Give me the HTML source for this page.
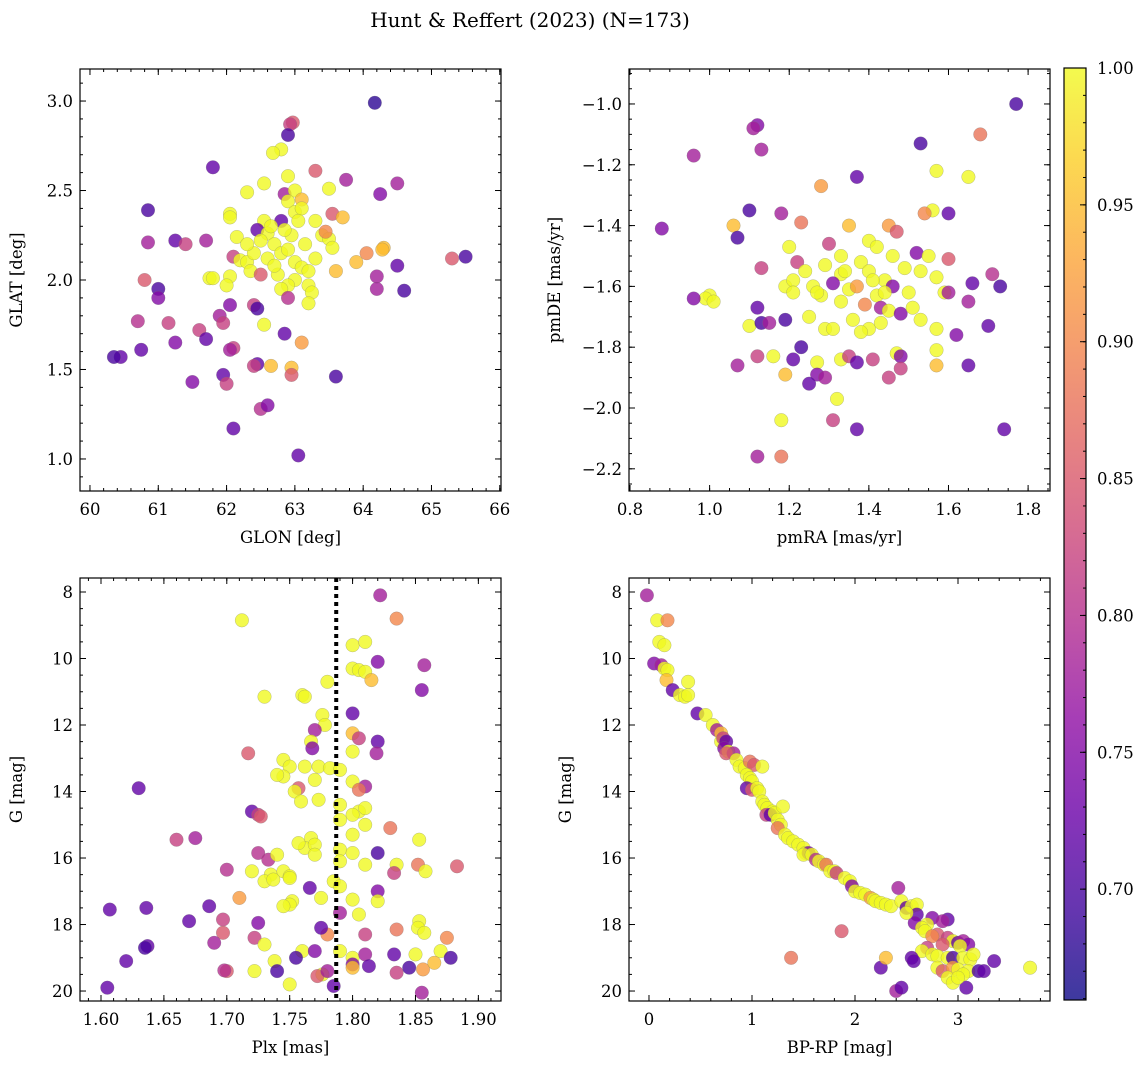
<!DOCTYPE html>
<html><head><meta charset="utf-8"><style>
body{margin:0;background:#fff}
svg{display:block;font-family:"DejaVu Serif","Liberation Serif",serif}
</style></head><body>
<svg id="s" width="1148" height="1068" viewBox="0 0 1148 1068">
<text x="530" y="27" text-anchor="middle" font-size="20">Hunt &amp; Reffert (2023) (N=173)</text>
</svg>
<script>
// Panel 1: GLON, GLAT, probability
const p1 = [[64.17,2.99,.68],[62.97,2.88,.85],[62.93,2.87,.82],[62.9,2.81,.70],[62.8,2.73,1],[62.68,2.71,1],[61.8,2.63,.72],[63.3,2.61,.85],[62.9,2.58,1],[63.75,2.56,.78],[64.5,2.54,.78],[62.55,2.54,1],[63.5,2.51,1],[62.3,2.49,1],[62.85,2.48,.78],[63.0,2.5,1],[64.25,2.48,.75],[63.1,2.45,.95],[62.9,2.44,1],[60.85,2.39,.70],[62.05,2.37,1],[62.05,2.35,1],[63.0,2.38,1],[63.1,2.4,1],[62.8,2.33,.72],[63.55,2.37,.85],[63.7,2.35,.95],[63.3,2.33,1],[62.55,2.33,1],[61.25,2.22,.72],[61.4,2.2,.82],[61.7,2.22,.78],[60.85,2.21,.78],[62.45,2.28,.72],[62.6,2.26,1],[62.15,2.24,1],[62.1,2.13,.82],[62.2,2.11,1],[62.3,2.1,1],[63.4,2.25,1],[63.5,2.23,1],[63.55,2.18,1],[63.45,2.27,.9],[62.7,2.2,1],[62.8,2.15,1],[62.9,2.17,1],[63.0,2.1,1],[63.1,2.07,1],[63.2,2.05,1],[62.6,2.12,1],[62.5,2.22,1],[62.4,2.15,1],[62.35,2.05,1],[62.75,2.03,1],[63.0,2.0,1],[62.9,1.97,1],[63.2,1.97,1],[63.25,1.93,1],[62.8,1.95,1],[64.3,2.18,.95],[64.28,2.17,.95],[64.05,2.15,.9],[63.9,2.1,.95],[65.3,2.12,.85],[65.5,2.13,.70],[64.5,2.08,.72],[60.8,2.0,.85],[61.0,1.95,.70],[61.0,1.9,.75],[61.75,2.01,1],[61.8,2.01,1],[62.05,2.02,1],[62.0,1.97,1],[63.6,2.05,.95],[62.5,2.03,.85],[64.2,2.02,.78],[64.2,1.95,.78],[64.6,1.94,.70],[63.2,1.87,1],[62.9,1.9,.8],[61.9,1.8,.78],[61.95,1.76,.82],[62.05,1.86,.75],[62.4,1.86,.82],[62.45,1.84,.7],[60.7,1.77,.80],[61.15,1.76,.82],[61.6,1.72,.82],[61.7,1.67,.72],[62.55,1.75,1],[62.85,1.7,.72],[63.1,1.65,.92],[61.25,1.65,.75],[60.75,1.61,.72],[60.45,1.57,.72],[60.35,1.57,.70],[62.1,1.62,.82],[62.05,1.61,.78],[61.95,1.47,.72],[62.0,1.42,.82],[62.45,1.53,.72],[62.4,1.52,.82],[62.65,1.52,.95],[62.95,1.51,.95],[62.95,1.47,.85],[63.6,1.46,.70],[61.5,1.43,.75],[62.5,1.28,.8],[62.6,1.3,.75],[62.1,1.17,.72],[63.05,1.02,.72],[62.65,2.3,1],[62.95,2.25,1],[63.15,2.2,1],[62.3,2.2,1],[62.7,2.08,1],[63.3,2.12,1],[62.85,2.28,1],[63.05,2.33,1]];
// Panel 2: pmRA, pmDE, probability
const p2 = [[1.77,-1.0,.70],[1.68,-1.1,.88],[1.12,-1.07,.75],[1.11,-1.08,.78],[0.96,-1.17,.78],[1.13,-1.15,.78],[1.53,-1.13,.70],[1.65,-1.24,1],[1.37,-1.24,.72],[1.57,-1.22,1],[1.28,-1.27,.92],[1.10,-1.35,.70],[1.56,-1.35,1],[1.18,-1.36,.78],[1.54,-1.36,.9],[1.60,-1.36,.72],[1.06,-1.40,.95],[0.88,-1.41,.75],[1.07,-1.44,.70],[1.23,-1.39,.88],[1.35,-1.40,.95],[1.45,-1.40,.92],[1.47,-1.42,.85],[1.40,-1.45,1],[1.42,-1.47,1],[1.30,-1.46,.82],[1.20,-1.47,1],[1.33,-1.50,1],[1.38,-1.52,1],[1.46,-1.50,1],[1.52,-1.49,.75],[1.55,-1.50,1],[1.60,-1.51,.85],[1.71,-1.56,.8],[1.22,-1.52,.82],[1.24,-1.55,1],[1.29,-1.53,1],[1.33,-1.56,1],[1.40,-1.55,1],[1.44,-1.58,1],[1.49,-1.54,1],[1.53,-1.55,1],[1.57,-1.57,1],[1.13,-1.54,.82],[1.19,-1.6,1],[1.21,-1.58,1],[1.26,-1.6,1],[1.31,-1.59,.75],[1.35,-1.61,1],[1.37,-1.6,.92],[1.42,-1.63,1],[1.46,-1.60,.75],[1.50,-1.62,1],[1.59,-1.62,1],[1.66,-1.59,.72],[1.73,-1.60,.7],[1.00,-1.63,1],[0.99,-1.64,1],[0.96,-1.64,.75],[1.01,-1.65,1],[1.12,-1.67,.72],[1.21,-1.62,1],[1.28,-1.63,1],[1.33,-1.65,1],[1.39,-1.66,.9],[1.43,-1.67,.78],[1.45,-1.68,1],[1.48,-1.69,.75],[1.60,-1.62,.78],[1.65,-1.65,.78],[1.10,-1.73,1],[1.13,-1.72,.7],[1.15,-1.72,.78],[1.19,-1.71,.7],[1.25,-1.70,1],[1.29,-1.74,1],[1.31,-1.74,1],[1.36,-1.71,1],[1.40,-1.74,1],[1.43,-1.72,1],[1.53,-1.71,1],[1.57,-1.74,1],[1.62,-1.76,.75],[1.70,-1.73,.72],[1.07,-1.86,.78],[1.12,-1.83,.82],[1.16,-1.83,1],[1.21,-1.84,.72],[1.23,-1.80,.7],[1.27,-1.85,1],[1.27,-1.89,.75],[1.29,-1.9,.78],[1.25,-1.92,.72],[1.33,-1.84,1],[1.35,-1.83,.82],[1.37,-1.85,.72],[1.41,-1.84,.82],[1.47,-1.82,1],[1.48,-1.83,.75],[1.48,-1.87,.82],[1.45,-1.90,.82],[1.57,-1.81,1],[1.57,-1.86,.95],[1.65,-1.86,.72],[1.19,-1.89,.95],[1.32,-1.97,1],[1.31,-2.04,.82],[1.18,-2.04,1],[1.37,-2.07,.72],[1.74,-2.07,.72],[1.12,-2.16,.78],[1.18,-2.16,.88],[1.38,-1.75,1],[1.34,-1.55,1],[1.44,-1.62,1],[1.27,-1.62,1],[1.51,-1.67,1],[1.41,-1.58,1]];
// Panel 3: Plx, G, probability
const p3 = [[1.822,8.1,.78],[1.835,8.8,.9],[1.712,8.85,1],[1.80,9.6,1],[1.81,9.5,1],[1.82,10.1,.75],[1.857,10.2,.78],[1.80,10.3,1],[1.805,10.35,1],[1.81,10.4,1],[1.78,10.7,1],[1.815,10.65,.95],[1.855,10.95,.75],[1.76,11.1,1],[1.762,11.15,1],[1.73,11.15,1],[1.776,11.7,1],[1.80,11.65,.72],[1.778,12.0,1],[1.77,12.15,.78],[1.80,12.25,.95],[1.805,12.4,.82],[1.82,12.5,.72],[1.767,12.5,1],[1.768,12.7,.75],[1.80,12.8,1],[1.819,12.85,.78],[1.717,12.85,.85],[1.745,13.05,1],[1.762,13.25,1],[1.773,13.25,1],[1.782,13.3,1],[1.75,13.25,1],[1.79,13.35,1],[1.745,13.55,1],[1.74,13.5,1],[1.77,13.65,1],[1.80,13.7,1],[1.81,13.85,.78],[1.805,13.95,.88],[1.757,13.9,.85],[1.754,14.0,1],[1.63,13.9,.72],[1.79,14.4,1],[1.773,14.25,1],[1.759,14.3,1],[1.805,14.6,1],[1.81,14.5,1],[1.80,14.7,1],[1.72,14.6,.72],[1.725,14.7,.82],[1.727,14.75,.85],[1.79,14.85,1],[1.81,15.0,1],[1.83,15.1,.88],[1.767,15.4,1],[1.80,15.3,1],[1.853,15.45,1],[1.66,15.45,.82],[1.675,15.4,.78],[1.762,15.7,1],[1.757,15.55,1],[1.77,15.6,1],[1.79,15.75,1],[1.80,15.85,1],[1.82,15.85,.70],[1.725,15.85,.80],[1.733,16.05,.8],[1.74,15.9,1],[1.77,15.9,1],[1.79,16.1,1],[1.81,16.2,1],[1.835,16.2,1],[1.852,16.2,.88],[1.858,16.4,1],[1.883,16.25,.85],[1.833,16.45,.82],[1.70,16.35,.8],[1.72,16.4,1],[1.735,16.5,1],[1.745,16.4,1],[1.75,16.55,1],[1.73,16.7,1],[1.737,16.65,1],[1.75,16.6,1],[1.766,16.9,.72],[1.785,16.7,1],[1.79,16.85,1],[1.82,17.0,.75],[1.71,17.2,.92],[1.752,17.3,1],[1.75,17.4,1],[1.745,17.45,1],[1.775,17.2,1],[1.80,17.25,1],[1.82,17.3,1],[1.805,17.7,1],[1.79,17.65,.78],[1.607,17.55,.72],[1.636,17.5,.72],[1.686,17.45,.72],[1.67,17.9,.72],[1.697,17.85,.82],[1.725,17.95,.75],[1.853,17.9,1],[1.852,18.1,1],[1.835,18.15,.88],[1.857,18.25,1],[1.875,18.4,.9],[1.81,18.3,.82],[1.78,18.3,.9],[1.775,18.1,.72],[1.722,18.4,.82],[1.697,18.25,.85],[1.69,18.55,.78],[1.73,18.6,1],[1.637,18.65,.72],[1.635,18.7,.7],[1.76,18.8,1],[1.77,18.8,.75],[1.79,18.8,1],[1.80,19.0,1],[1.81,18.9,.78],[1.833,18.9,.72],[1.85,18.9,1],[1.87,18.8,1],[1.878,19.0,.7],[1.62,19.1,.72],[1.755,19.0,.7],[1.738,19.1,1],[1.80,19.2,.75],[1.813,19.25,.72],[1.835,19.45,.82],[1.856,19.35,.92],[1.865,19.15,.95],[1.80,19.3,.95],[1.776,19.5,1],[1.772,19.55,.85],[1.78,19.4,.78],[1.70,19.4,.85],[1.698,19.38,.8],[1.722,19.4,1],[1.74,19.4,.7],[1.75,19.8,1],[1.785,19.85,.72],[1.605,19.9,.72],[1.855,20.05,.78],[1.845,19.3,.7]];
// Panel 4: BP-RP, G, probability
const p4 = [[-0.02,8.1,.78],[0.08,8.85,1],[0.18,8.85,.9],[0.1,9.5,1],[0.15,9.6,1],[0.05,10.15,.75],[0.12,10.2,.78],[0.15,10.3,1],[0.18,10.35,1],[0.17,10.65,.95],[0.23,10.95,.72],[0.3,11.1,1],[0.35,11.15,1],[0.38,11.1,1],[0.38,10.7,1],[0.47,11.65,.72],[0.55,11.7,1],[0.62,12.0,1],[0.66,12.15,.78],[0.7,12.25,.95],[0.7,12.5,1],[0.72,12.4,.82],[0.75,12.5,.72],[0.73,12.7,.75],[0.77,12.8,1],[0.82,12.85,.78],[0.75,12.85,.85],[0.85,13.05,1],[0.88,13.25,1],[0.93,13.3,1],[0.98,13.1,.88],[1.02,13.2,.85],[1.1,13.25,1],[0.95,13.5,1],[0.98,13.6,1],[1.0,13.7,1],[0.95,13.9,.72],[1.0,13.95,.85],[1.05,13.9,1],[1.07,14.0,1],[1.1,14.3,1],[1.12,14.4,1],[1.15,14.5,1],[1.2,14.6,1],[1.14,14.7,.82],[1.18,14.7,.72],[1.22,14.65,1],[1.25,14.85,1],[1.3,14.45,1],[1.28,15.0,1],[1.25,15.1,.88],[1.32,15.3,1],[1.35,15.4,1],[1.4,15.5,1],[1.45,15.6,1],[1.5,15.7,1],[1.52,15.85,1],[1.55,15.85,.75],[1.5,15.9,1],[1.58,15.9,1],[1.62,16.05,.8],[1.65,16.1,1],[1.7,16.2,1],[1.72,16.2,.88],[1.76,16.4,1],[1.8,16.4,1],[1.82,16.45,.82],[1.9,16.6,1],[1.95,16.7,1],[1.97,16.85,.75],[2.0,17.0,1],[2.05,17.05,1],[2.1,17.1,1],[2.15,17.2,.92],[2.18,17.25,1],[2.2,17.3,1],[2.25,17.35,1],[2.3,17.4,1],[2.35,17.45,1],[2.42,16.9,.78],[2.45,17.3,1],[2.5,17.5,.72],[2.55,17.45,1],[2.6,17.4,1],[2.6,17.7,.72],[2.58,17.95,.75],[2.5,17.65,1],[2.75,17.8,.75],[2.9,17.85,.72],[2.85,17.9,.78],[2.7,18.0,1],[2.65,18.1,1],[2.68,18.2,1],[2.8,18.3,.85],[2.75,18.35,.9],[2.9,18.4,.82],[2.95,18.5,1],[3.0,18.55,.72],[3.05,18.5,.78],[3.1,18.6,.75],[3.02,18.65,1],[2.85,18.6,.85],[2.7,18.7,.82],[2.65,18.8,1],[2.75,18.9,1],[2.8,18.95,1],[2.9,19.0,1],[2.95,19.0,.7],[3.05,19.0,1],[3.12,19.05,1],[3.15,18.9,1],[3.35,19.1,.72],[2.55,19.0,.72],[2.57,19.1,.72],[2.8,19.3,1],[2.85,19.4,.85],[2.95,19.3,.92],[3.0,19.35,1],[3.1,19.4,1],[3.2,19.4,.7],[3.25,19.4,.72],[2.9,19.6,1],[2.95,19.75,1],[3.05,19.5,1],[2.25,19.3,.72],[1.38,19.0,.88],[1.87,18.2,.85],[3.7,19.3,1],[2.4,20.0,.78],[2.45,19.9,.72],[3.08,19.9,.72],[2.3,19.0,.95],[3.0,19.6,1]];
const plxMedian = 1.787;
const cbTicks = [0.70,0.75,0.80,0.85,0.90,0.95,1.00];
const pMin = 0.6595, pMax = 1.0;

const NS='http://www.w3.org/2000/svg', svg=document.getElementById('s');
function mk(t,a,par){const e=document.createElementNS(NS,t);for(const k in a)e.setAttribute(k,a[k]);(par||svg).appendChild(e);return e;}
const stops=[[13,8,135],[65,4,157],[106,0,168],[143,13,164],[177,42,144],[204,71,120],[225,100,98],[242,132,75],[252,166,54],[252,206,37],[240,249,33]];
function cmap(p){let t=(p-pMin)/(pMax-pMin);t=Math.max(0,Math.min(1,t))*10;const i=Math.min(9,Math.floor(t)),f=t-i;const a=stops[i],b=stops[i+1];return 'rgb('+[0,1,2].map(k=>Math.round(a[k]+(b[k]-a[k])*f)).join(',')+')';}
function fmt(v,d){return (v<0?'\u2212':'')+Math.abs(v).toFixed(d);}

function panel(o){
  const g=mk('g',{});
  
  
  const X=v=>o.L+(v-o.x0)/(o.x1-o.x0)*(o.R-o.L);
  const Y=v=>o.inv? o.T+(v-o.y0)/(o.y1-o.y0)*(o.B-o.T) : o.B-(v-o.y0)/(o.y1-o.y0)*(o.B-o.T);
  const pts=mk('g',{},g);
  
  
  o.data.forEach(d=>{const c=mk('circle',{cx:X(d[0]).toFixed(1),cy:Y(d[1]).toFixed(1),r:6.8,fill:cmap(d[2]),'fill-opacity':0.8,stroke:'#777','stroke-width':0.4,'stroke-opacity':0.6},pts);
    
    });
  if(o.vline!==undefined){const l=mk('line',{x1:X(o.vline),x2:X(o.vline),y1:o.T,y2:o.B,stroke:'#000','stroke-width':4,'stroke-dasharray':'4,4'},g);
    
    }
  mk('rect',{x:o.L,y:o.T,width:o.R-o.L,height:o.B-o.T,fill:'none',stroke:'#000','stroke-width':1.2},g);
  const eps=1e-9;
  for(let v=Math.ceil(o.x0/o.xm-eps)*o.xm;v<=o.x1+eps;v+=o.xm){const x=X(v);mk('line',{x1:x,x2:x,y1:o.B,y2:o.B-3,stroke:'#000'},g);mk('line',{x1:x,x2:x,y1:o.T,y2:o.T+3,stroke:'#000'},g);}
  for(let v=Math.ceil(o.y0/o.ym-eps)*o.ym;v<=o.y1+eps;v+=o.ym){const y=Y(v);mk('line',{x1:o.L,x2:o.L+3,y1:y,y2:y,stroke:'#000'},g);mk('line',{x1:o.R,x2:o.R-3,y1:y,y2:y,stroke:'#000'},g);}
  o.xt.forEach(v=>{const x=X(v);mk('line',{x1:x,x2:x,y1:o.B,y2:o.B-6,stroke:'#000'},g);mk('line',{x1:x,x2:x,y1:o.T,y2:o.T+6,stroke:'#000'},g);
    const t=mk('text',{x:x,y:o.B+24,'text-anchor':'middle','font-size':16.5},g);t.textContent=fmt(v,o.xd);
    
    });
  o.yt.forEach(v=>{const y=Y(v);mk('line',{x1:o.L,x2:o.L+6,y1:y,y2:y,stroke:'#000'},g);mk('line',{x1:o.R,x2:o.R-6,y1:y,y2:y,stroke:'#000'},g);
    const t=mk('text',{x:o.L-7,y:y+6,'text-anchor':'end','font-size':16.5},g);t.textContent=fmt(v,o.yd);
    
    });
  const xl=mk('text',{x:(o.L+o.R)/2,y:o.B+52,'text-anchor':'middle','font-size':16.5},g);xl.textContent=o.xl;
  
  
  const yx=o.L-o.ylo, yy=(o.T+o.B)/2;
  const yl=mk('text',{x:yx,y:yy,'text-anchor':'middle','font-size':16.5,transform:'rotate(-90 '+yx+' '+yy+')'},g);yl.textContent=o.yl;
  
  
}
panel({name:'glon-glat-panel',data:p1,L:80,R:501,T:69,B:491,x0:59.854,x1:66.018,y0:0.821,y1:3.179,xm:0.2,ym:0.1,xt:[60,61,62,63,64,65,66],yt:[1.0,1.5,2.0,2.5,3.0],xd:0,yd:1,xl:'GLON [deg]',yl:'GLAT [deg]',ylo:58});
panel({name:'proper-motion-panel',data:p2,L:629,R:1050,T:69,B:491,x0:0.7975,x1:1.855,y0:-2.273,y1:-0.885,xm:0.05,ym:0.05,xt:[0.8,1.0,1.2,1.4,1.6,1.8],yt:[-2.2,-2.0,-1.8,-1.6,-1.4,-1.2,-1.0],xd:1,yd:1,xl:'pmRA [mas/yr]',yl:'pmDE [mas/yr]',ylo:69});
panel({name:'parallax-magnitude-panel',data:p3,L:80,R:501,T:578,B:1001,x0:1.5833,x1:1.918,y0:7.579,y1:20.30,inv:true,xm:0.01,ym:0.5,xt:[1.60,1.65,1.70,1.75,1.80,1.85,1.90],yt:[8,10,12,14,16,18,20],xd:2,yd:0,xl:'Plx [mas]',yl:'G [mag]',ylo:58,vline:plxMedian});
panel({name:'color-magnitude-panel',data:p4,L:629,R:1050,T:578,B:1001,x0:-0.194,x1:3.893,y0:7.579,y1:20.30,inv:true,xm:0.2,ym:0.5,xt:[0,1,2,3],yt:[8,10,12,14,16,18,20],xd:0,yd:0,xl:'BP-RP [mag]',yl:'G [mag]',ylo:58});

// colorbar
const cb=mk('g',{});


const defs=mk('defs',{},cb),lg=mk('linearGradient',{id:'cg',x1:0,y1:1,x2:0,y2:0},defs);
for(let i=0;i<=10;i++)mk('stop',{offset:i/10,'stop-color':'rgb('+stops[i].join(',')+')','stop-opacity':0.8},lg);
const cT=68,cB=1000,cL=1064,cR=1086;
mk('rect',{x:cL,y:cT,width:cR-cL,height:cB-cT,fill:'url(#cg)',stroke:'#000','stroke-width':1.2},cb);
const CY=v=>cB-(v-pMin)/(pMax-pMin)*(cB-cT);
for(let k=66;k<=100;k++){const y=CY(k/100);mk('line',{x1:cR,x2:cR-3,y1:y,y2:y,stroke:'#000'},cb);}
cbTicks.forEach(v=>{const y=CY(v);mk('line',{x1:cR,x2:cR-6,y1:y,y2:y,stroke:'#000'},cb);
  const t=mk('text',{x:cR+11,y:y+6,'font-size':16.5},cb);t.textContent=v.toFixed(2);
  
  });
</script>
</body></html>
